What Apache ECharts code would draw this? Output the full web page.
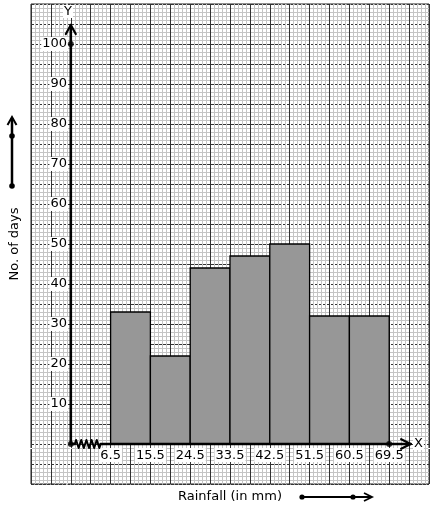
<!DOCTYPE html>
<html>
<head>
<meta charset="utf-8">
<script src="https://cdn.jsdelivr.net/npm/echarts@6/dist/echarts.min.js"></script>
<style>
html,body{margin:0;padding:0;background:#fff;}
#chart{width:434px;height:510px;}
</style>
</head>
<body>
<div id="chart"></div>
<script>
// ---- data ----
const classBounds = [6.5, 15.5, 24.5, 33.5, 42.5, 51.5, 60.5, 69.5];
const days = [33, 22, 44, 47, 50, 32, 32];
const yTickLabels = [10, 20, 30, 40, 50, 60, 70, 80, 90, 100];
const xTitle = 'Rainfall (in mm)';
const yTitle = 'No. of days';

const barData = days.map((d, i) => [classBounds[i], classBounds[i + 1], d]);
const FONT = 'DejaVu Sans';

// decorations in graph-paper units (1 unit = one small square)
const yAxisLine = [[10, 10], [10, 114.75]];
const yArrow = [[8.75, 112.5], [10, 114.75], [11.25, 112.5]];
const xAxisLineA = [[10, 10], [11, 10]];
const zigzag = [[11,10],[11.325,11],[11.975,9],[12.625,11],[13.275,9],[13.925,11],[14.575,9],[15.225,11],[15.875,9],[16.525,11],[17.175,9],[17.5,10]];
const xAxisLineB = [[17.5, 10], [95.4, 10]];
const xArrow = [[93, 11.2], [95.4, 10], [93, 8.8]];
const dots = [[10, 10], [10, 110], [90, 10]];

function decoLine(data, w) {
  return {
    type: 'line', xAxisIndex: 0, yAxisIndex: 0, data: data,
    symbol: 'none', silent: true, animation: false, z: 10,
    lineStyle: { color: '#000', width: w, cap: 'round', join: 'round' }
  };
}

const chart = echarts.init(document.getElementById('chart'), null, { renderer: 'canvas' });
chart.setOption({
  animation: false,
  backgroundColor: '#fff',
  textStyle: { fontFamily: FONT },
  grid: { left: 29, top: 4, width: 400, height: 480, show: true, borderColor: '#222', borderWidth: 1, backgroundColor: 'transparent' },
  xAxis: [
    { // graph paper
      type: 'value', min: 0, max: 100, interval: 5, position: 'bottom',
      axisLine: { show: false }, axisTick: { show: false }, axisLabel: { show: false },
      splitLine: { show: true, lineStyle: { color: '#333', width: 1 } },
      minorTick: { show: false, splitNumber: 5 },
      minorSplitLine: { show: true, lineStyle: { color: '#c4c4c4', width: 1 } },
      name: xTitle, nameLocation: 'middle', nameGap: 6,
      nameTextStyle: { fontFamily: FONT, fontSize: 13, color: '#000', verticalAlign: 'top' }
    },
    { // rainfall
      type: 'value', min: -11.5, max: 78.5, interval: 9, position: 'bottom', offset: -40,
      axisLine: { show: false, onZero: false }, axisTick: { show: false },
      splitLine: { show: false },
      axisLabel: {
        show: true, margin: 4, fontFamily: FONT, fontSize: 13, color: '#000',
        backgroundColor: '#fff', padding: [1, 1, 0, 1],
        formatter: v => (v >= classBounds[0] - 0.01 && v <= classBounds[classBounds.length - 1] + 0.01) ? String(v) : ''
      }
    }
  ],
  yAxis: [
    { // graph paper
      type: 'value', min: 0, max: 120, interval: 5, position: 'left',
      axisLine: { show: false, onZero: false }, axisTick: { show: false }, axisLabel: { show: false },
      splitLine: { show: true, lineStyle: { color: '#333', width: 1, type: [3, 1] } },
      minorTick: { show: false, splitNumber: 5 },
      minorSplitLine: { show: true, lineStyle: { color: '#c4c4c4', width: 1 } },
      name: yTitle, nameLocation: 'middle', nameGap: 10, nameRotate: 90,
      nameTextStyle: { fontFamily: FONT, fontSize: 13, color: '#000' }
    },
    { // days
      type: 'value', min: -10, max: 110, interval: 10, position: 'left', offset: -40,
      axisLine: { show: false, onZero: false }, axisTick: { show: false },
      splitLine: { show: false },
      axisLabel: {
        show: true, margin: 3, fontFamily: FONT, fontSize: 13, color: '#000',
        backgroundColor: '#fff', padding: [1, 1, 0, 1],
        formatter: v => yTickLabels.indexOf(v) >= 0 ? String(v) : ''
      }
    }
  ],
  series: [
    {
      type: 'custom', xAxisIndex: 1, yAxisIndex: 1, data: barData, z: 5,
      renderItem: function (params, api) {
        const p0 = api.coord([api.value(0), api.value(2)]);
        const p1 = api.coord([api.value(1), 0]);
        return {
          type: 'rect',
          shape: { x: p0[0], y: p0[1], width: p1[0] - p0[0], height: p1[1] - p0[1] },
          style: { fill: '#979797', stroke: '#000', lineWidth: 1.3 }
        };
      }
    },
    decoLine(yAxisLine, 2.6),
    decoLine(yArrow, 2.2),
    decoLine(xAxisLineA, 2.6),
    decoLine(zigzag, 2),
    decoLine(xAxisLineB, 2.6),
    decoLine(xArrow, 2.2),
    {
      type: 'scatter', xAxisIndex: 0, yAxisIndex: 0, data: dots, silent: true, z: 11,
      symbol: 'circle', symbolSize: 6, itemStyle: { color: '#000' }
    }
  ],
  graphic: [
    { type: 'text', left: 63, top: 5, z: 20, style: { text: 'Y', font: '13px "DejaVu Sans"', fill: '#000', backgroundColor: '#fff', padding: [0, 1] } },
    { type: 'text', left: 413, top: 437, z: 20, style: { text: 'X', font: '13px "DejaVu Sans"', fill: '#000', backgroundColor: '#fff', padding: [0, 1] } },
    // side arrow (vertical)
    { type: 'line', shape: { x1: 12, y1: 186, x2: 12, y2: 118 }, style: { stroke: '#000', lineWidth: 2.5 } },
    { type: 'polyline', shape: { points: [[7.5, 125], [12, 117], [16.5, 125]] }, style: { stroke: '#000', lineWidth: 2, fill: null } },
    { type: 'circle', shape: { cx: 12, cy: 186, r: 2.8 }, style: { fill: '#000' } },
    { type: 'circle', shape: { cx: 12, cy: 136, r: 2.8 }, style: { fill: '#000' } },
    // side arrow (horizontal)
    { type: 'line', shape: { x1: 302, y1: 497, x2: 371, y2: 497 }, style: { stroke: '#000', lineWidth: 2.2 } },
    { type: 'polyline', shape: { points: [[364, 493], [372, 497], [364, 501]] }, style: { stroke: '#000', lineWidth: 1.8, fill: null } },
    { type: 'circle', shape: { cx: 302, cy: 497, r: 2.6 }, style: { fill: '#000' } },
    { type: 'circle', shape: { cx: 353, cy: 497, r: 2.6 }, style: { fill: '#000' } }
  ]
});
</script>
</body>
</html>
